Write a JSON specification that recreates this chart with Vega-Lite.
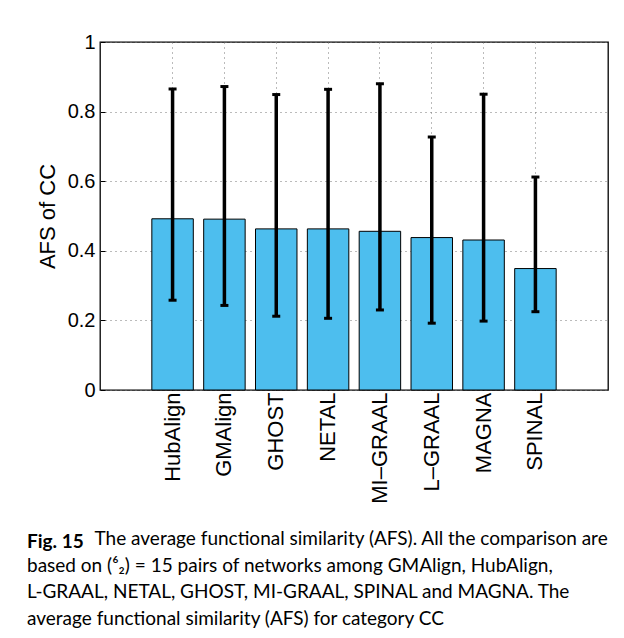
{
  "$schema": "https://vega.github.io/schema/vega-lite/v6.json",
  "width": 508,
  "height": 348,
  "autosize": {"type": "none"},
  "padding": {"left": 100, "top": 42, "right": 16, "bottom": 248},
  "background": "white",
  "config": {
    "view": {"stroke": "#000", "strokeWidth": 1.3},
    "font": "Liberation Sans"
  },
  "data": {
    "values": [
      {"name": "HubAlign", "afs": 0.492, "lo": 0.258, "hi": 0.865},
      {"name": "GMAlign", "afs": 0.491, "lo": 0.243, "hi": 0.872},
      {"name": "GHOST", "afs": 0.463, "lo": 0.212, "hi": 0.849},
      {"name": "NETAL", "afs": 0.463, "lo": 0.206, "hi": 0.864},
      {"name": "MI\u2013GRAAL", "afs": 0.456, "lo": 0.230, "hi": 0.880},
      {"name": "L\u2013GRAAL", "afs": 0.438, "lo": 0.192, "hi": 0.727},
      {"name": "MAGNA", "afs": 0.431, "lo": 0.198, "hi": 0.850},
      {"name": "SPINAL", "afs": 0.349, "lo": 0.225, "hi": 0.612}
    ]
  },
  "title": {
    "text": "Fig. 15",
    "subtitle": [
      "\u200b\u00a0\u00a0\u00a0\u00a0\u00a0\u00a0\u00a0\u00a0\u00a0\u00a0\u00a0\u00a0\u00a0\u00a0The average functional similarity (AFS). All the comparison are",
      "based on (\u2076\u2082) = 15 pairs of networks among GMAlign, HubAlign,",
      "L-GRAAL, NETAL, GHOST, MI-GRAAL, SPINAL and MAGNA. The",
      "average functional similarity (AFS) for category CC"
    ],
    "orient": "bottom",
    "anchor": "start",
    "frame": "group",
    "dx": -73,
    "offset": 30,
    "font": "Lato",
    "fontSize": 19,
    "fontWeight": "bold",
    "color": "#000",
    "lineHeight": 22,
    "subtitleFont": "Lato",
    "subtitleFontSize": 19,
    "subtitleColor": "#000",
    "subtitleLineHeight": 26.5,
    "subtitlePadding": -22
  },
  "encoding": {
    "x": {
      "field": "name",
      "type": "nominal",
      "sort": null,
      "scale": {"paddingInner": 0.2, "paddingOuter": 1.1},
      "axis": {
        "title": null,
        "labelAngle": -90,
        "labelFontSize": 22,
        "labelColor": "#000",
        "labelPadding": 7,
        "domain": false,
        "ticks": true,
        "tickSize": -5,
        "tickColor": "#000",
        "grid": true,
        "gridDash": [1, 4],
        "gridColor": "#777",
        "gridWidth": 1
      }
    }
  },
  "layer": [
    {
      "mark": {"type": "bar", "color": "#4DBEEE", "stroke": "#000", "strokeWidth": 1},
      "encoding": {
        "y": {
          "field": "afs",
          "type": "quantitative",
          "scale": {"domain": [0, 1], "nice": false},
          "axis": {
            "title": "AFS of CC",
            "values": [0, 0.2, 0.4, 0.6, 0.8, 1],
            "format": "~g",
            "labelFontSize": 20,
            "labelColor": "#000",
            "labelPadding": 10,
            "tickSize": -5,
            "tickColor": "#000",
            "domain": false,
            "grid": true,
            "gridDash": [1, 4],
            "gridColor": "#777",
            "titleFontSize": 22,
            "titleFontWeight": "normal",
            "titleColor": "#000",
            "titlePadding": 8
          }
        }
      }
    },
    {
      "mark": {"type": "rule", "color": "#000", "strokeWidth": 3.5},
      "encoding": {
        "y": {"field": "lo", "type": "quantitative", "title": "AFS of CC"},
        "y2": {"field": "hi"}
      }
    },
    {
      "mark": {"type": "tick", "color": "#000", "thickness": 3, "size": 8, "opacity": 1},
      "encoding": {"y": {"field": "lo", "type": "quantitative", "title": "AFS of CC"}}
    },
    {
      "mark": {"type": "tick", "color": "#000", "thickness": 3, "size": 8, "opacity": 1},
      "encoding": {"y": {"field": "hi", "type": "quantitative", "title": "AFS of CC"}}
    }
  ]
}
